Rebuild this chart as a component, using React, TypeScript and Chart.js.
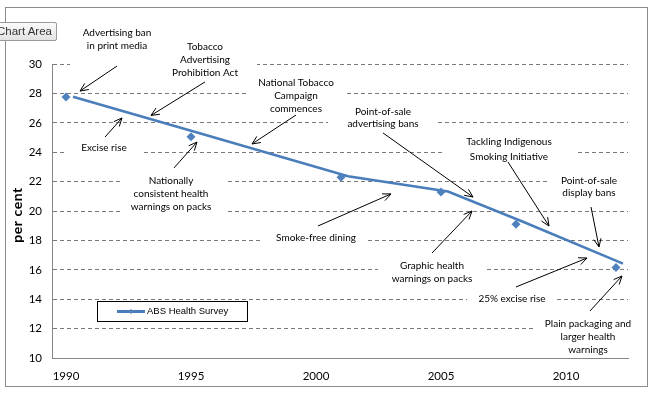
import React, { useEffect, useRef } from "react";
import { Chart, registerables } from "chart.js";

Chart.register(...registerables);

// ---- data ----
const seriesLabel = "ABS Health Survey";
const yTitle = "per cent";
const surveyYears = [1990, 1995, 2001, 2005, 2008, 2012];
const surveyValues = [27.75, 25.05, 22.3, 21.3, 19.1, 16.15];
// the drawn trend line sits slightly to the right of the markers in the original
const lineYears = [1990.28, 1995.28, 2001.28, 2005.28, 2008.28, 2012.28];
const lineValues = [27.78, 25.33, 22.37, 21.33, 19.27, 16.42];
const xTickValues = [1990, 1995, 2000, 2005, 2010];
const xRange = [1989.44, 2012.48];
const yRange = [10, 30];
const yStep = 2;

// ---- annotations (positions in data units: year, per cent) ----
const annTexts: string[][] = [
  ["Advertising ban", "in print media"],
  ["Tobacco", "Advertising", "Prohibition Act"],
  ["National Tobacco", "Campaign", "commences"],
  ["Excise rise"],
  ["Nationally", "consistent health", "warnings on packs"],
  ["Point-of-sale", "advertising bans"],
  ["Tackling Indigenous", "Smoking Initiative"],
  ["Point-of-sale", "display bans"],
  ["Smoke-free dining"],
  ["Graphic health", "warnings on packs"],
  ["25% excise rise"],
  ["Plain packaging and", "larger health", "warnings"],
];
const annAnchors: number[][] = [
  [1992.04, 32.11],
  [1995.56, 31.16],
  [1999.2, 28.71],
  [1991.52, 24.29],
  [1994.2, 22.04],
  [2002.68, 26.73],
  [2007.72, 24.69],
  [2010.92, 22.04],
  [2000.0, 18.16],
  [2004.64, 16.26],
  [2007.84, 14.01],
  [2010.88, 12.31],
];
const annLineGap = [13, 13, 13, 13, 13, 12, 15, 12, 13, 13, 13, 13];
const annBoxes: number[][] = [
  [1990.16, 1993.96, 32.99, 29.73],
  [1993.36, 1997.64, 31.77, 28.64],
  [1997.24, 2001.16, 29.32, 26.33],
  [1990.04, 1993.08, 24.76, 23.74],
  [1992.16, 1996.44, 22.65, 19.8],
  [2000.48, 2004.84, 27.28, 25.44],
  [2005.04, 2010.36, 25.24, 23.13],
  [2009.24, 2012.48, 22.59, 20.68],
  [1997.88, 2002.0, 18.64, 17.62],
  [2002.48, 2006.8, 16.8, 14.83],
  [2006.04, 2009.64, 14.49, 13.54],
  [2008.68, 2012.48, 12.86, 10.14],
];
const annArrows: number[][] = [
  [1992.04, 29.86, 1990.56, 28.16],
  [1995.56, 28.78, 1993.4, 26.5],
  [1999.2, 26.53, 1997.44, 24.56],
  [1991.56, 25.03, 1992.24, 26.33],
  [1994.32, 22.93, 1995.24, 24.69],
  [2002.68, 25.31, 2006.28, 20.95],
  [2007.68, 23.33, 2009.32, 18.98],
  [2011.0, 20.27, 2011.32, 17.55],
  [2000.08, 18.98, 2003.0, 21.16],
  [2004.64, 17.14, 2006.24, 20.0],
  [2008.0, 14.83, 2010.84, 16.8],
  [2010.96, 13.2, 2012.24, 15.58],
];
const legendBox = [1991.24, 1997.24, 13.88, 12.52];

const LINE_COLOR = "#4A7EBB";
const MARKER_COLOR = "#4F81BD";

export default function App() {
  const ref = useRef<HTMLCanvasElement>(null);

  useEffect(() => {
    const canvas = ref.current;
    if (!canvas) return;

    const annPlugin = {
      id: "annotations",
      beforeDraw(chart: any) {
        const ctx = chart.ctx;
        ctx.save();
        ctx.strokeStyle = "#8c8c8c";
        ctx.lineWidth = 1;
        ctx.strokeRect(5.5, 7.5, 642, 379);
        ctx.restore();
      },
      beforeDatasetsDraw(chart: any) {
        const ctx = chart.ctx;
        const xs = chart.scales.x;
        const ys = chart.scales.y;
        ctx.save();
        ctx.fillStyle = "#ffffff";
        annBoxes.forEach((b) => {
          const l = xs.getPixelForValue(b[0]);
          const r = xs.getPixelForValue(b[1]);
          const t = ys.getPixelForValue(b[2]);
          const bt = ys.getPixelForValue(b[3]);
          ctx.fillRect(l, t, r - l, bt - t);
        });
        // y-axis title
        const ca = chart.chartArea;
        ctx.translate(17, (ca.top + ca.bottom) / 2 + 4);
        ctx.rotate(-Math.PI / 2);
        ctx.font = "bold 14px Lato";
        const w = ctx.measureText(yTitle).width;
        if (w < 55 && "letterSpacing" in ctx) {
          (ctx as any).letterSpacing = ((55 - w) / (yTitle.length - 1)).toFixed(2) + "px";
        }
        ctx.fillStyle = "#000";
        ctx.textAlign = "center";
        ctx.textBaseline = "middle";
        ctx.fillText(yTitle, 0, 0);
        ctx.restore();
      },
      afterDatasetsDraw(chart: any) {
        const ctx = chart.ctx;
        const xs = chart.scales.x;
        const ys = chart.scales.y;
        ctx.save();
        // texts
        ctx.fillStyle = "#000";
        ctx.font = "10px Lato";
        ctx.textAlign = "center";
        ctx.textBaseline = "middle";
        annTexts.forEach((lines, i) => {
          const cx = xs.getPixelForValue(annAnchors[i][0]);
          const cy = ys.getPixelForValue(annAnchors[i][1]);
          lines.forEach((s, j) => ctx.fillText(s, cx, cy + j * annLineGap[i]));
        });
        // arrows
        ctx.strokeStyle = "#000";
        ctx.lineWidth = 1;
        annArrows.forEach((a) => {
          const x1 = xs.getPixelForValue(a[0]);
          const y1 = ys.getPixelForValue(a[1]);
          const x2 = xs.getPixelForValue(a[2]);
          const y2 = ys.getPixelForValue(a[3]);
          const ang = Math.atan2(y2 - y1, x2 - x1);
          const hl = 9;
          const ha = 0.42;
          ctx.beginPath();
          ctx.moveTo(x1, y1);
          ctx.lineTo(x2, y2);
          ctx.moveTo(x2 - hl * Math.cos(ang - ha), y2 - hl * Math.sin(ang - ha));
          ctx.lineTo(x2, y2);
          ctx.lineTo(x2 - hl * Math.cos(ang + ha), y2 - hl * Math.sin(ang + ha));
          ctx.stroke();
        });
        // legend
        const l = Math.round(xs.getPixelForValue(legendBox[0]));
        const r = Math.round(xs.getPixelForValue(legendBox[1]));
        const t = Math.round(ys.getPixelForValue(legendBox[2]));
        const b = Math.round(ys.getPixelForValue(legendBox[3]));
        ctx.fillStyle = "#fff";
        ctx.fillRect(l, t, r - l, b - t);
        ctx.strokeStyle = "#000";
        ctx.lineWidth = 1;
        ctx.strokeRect(l + 0.5, t + 0.5, r - l, b - t);
        const my = (t + b) / 2 + 0.5;
        ctx.strokeStyle = LINE_COLOR;
        ctx.lineWidth = 3;
        ctx.beginPath();
        ctx.moveTo(l + 20, my);
        ctx.lineTo(l + 48, my);
        ctx.stroke();
        ctx.fillStyle = MARKER_COLOR;
        ctx.beginPath();
        const mx = l + 34;
        ctx.moveTo(mx - 2.5, my);
        ctx.lineTo(mx, my - 2.5);
        ctx.lineTo(mx + 2.5, my);
        ctx.lineTo(mx, my + 2.5);
        ctx.closePath();
        ctx.fill();
        ctx.fillStyle = "#000";
        ctx.font = '9.5px "Liberation Sans"';
        ctx.textAlign = "left";
        ctx.textBaseline = "middle";
        ctx.fillText(seriesLabel, l + 50, my);
        ctx.restore();
      },
    };

    const chart = new Chart(canvas, {
      type: "line",
      data: {
        datasets: [
          {
            type: "scatter",
            label: seriesLabel + " markers",
            data: surveyYears.map((x, i) => ({ x, y: surveyValues[i] })),
            pointStyle: "rectRot",
            pointRadius: 4.5,
            backgroundColor: MARKER_COLOR,
            borderColor: MARKER_COLOR,
            borderWidth: 0,
            showLine: false,
            order: 1,
          } as any,
          {
            type: "line",
            label: seriesLabel,
            data: lineYears.map((x, i) => ({ x, y: lineValues[i] })),
            borderColor: LINE_COLOR,
            borderWidth: 2.6,
            pointRadius: 0,
            fill: false,
            tension: 0,
            order: 2,
          } as any,
        ],
      },
      options: {
        responsive: false,
        animation: false,
        devicePixelRatio: 1,
        layout: { padding: { left: 0, top: 64, right: 28, bottom: 0 } },
        plugins: {
          legend: { display: false },
          tooltip: { enabled: false },
        },
        scales: {
          x: {
            type: "linear",
            position: "bottom",
            min: xRange[0],
            max: xRange[1],
            grid: { display: false, drawTicks: false },
            border: { display: true, color: "#868686", width: 1 },
            ticks: {
              color: "#000",
              font: { family: "Lato", size: 11.5 },
              padding: 11,
              maxRotation: 0,
              autoSkip: false,
              callback: (v: any) => String(v),
            },
            afterBuildTicks: (s: any) => {
              s.ticks = xTickValues.map((v) => ({ value: v }));
            },
            afterFit: (s: any) => {
              s.height = 37;
            },
          },
          y: {
            type: "linear",
            min: yRange[0],
            max: yRange[1],
            ticks: {
              stepSize: yStep,
              color: "#000",
              font: { family: "Lato", size: 11.5 },
              padding: 10,
            },
            grid: { color: "#7a7a7a", drawTicks: false, lineWidth: 1 },
            border: { display: true, color: "#868686", width: 1, dash: [4, 3] },
            title: { display: false },
            afterFit: (s: any) => {
              s.width = 52;
            },
          },
        },
      } as any,
      plugins: [annPlugin],
    });

    return () => chart.destroy();
  }, []);

  return (
    <div
      style={{
        position: "fixed",
        left: 0,
        top: 0,
        width: 656,
        height: 395,
        background: "#fff",
        overflow: "hidden",
      }}
    >
      <canvas ref={ref} width={656} height={395} style={{ display: "block" }} />
      <div
        style={{
          position: "absolute",
          left: -7,
          top: 22,
          width: 64,
          height: 19,
          boxSizing: "border-box",
          border: "1px solid #9a9a9a",
          borderRadius: 2,
          background: "linear-gradient(#fbfbfb, #e2e2e2)",
          font: '11.5px "Liberation Sans"',
          lineHeight: "17px",
          paddingLeft: 3,
          color: "#333",
          whiteSpace: "nowrap",
          overflow: "hidden",
        }}
      >
        Chart Area
      </div>
    </div>
  );
}
